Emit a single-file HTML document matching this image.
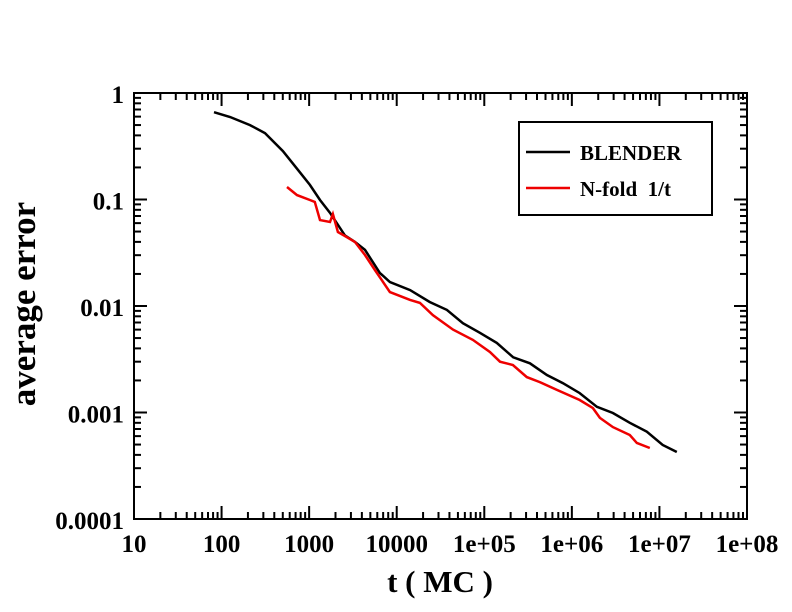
<!DOCTYPE html>
<html><head><meta charset="utf-8"><style>
body{margin:0;background:#fff}
svg{display:block;font-family:"Liberation Serif",serif;font-weight:bold}
</style></head><body>
<svg id="chart" width="792" height="612" viewBox="0 0 792 612" xmlns="http://www.w3.org/2000/svg">
<rect x="134" y="93" width="613" height="426" fill="none" stroke="#000" stroke-width="2"/>
<g id="ticks"></g>
<g id="labels"></g>
<g id="series"></g>
<text x="440" y="592" font-size="31" text-anchor="middle">t ( MC )</text>
<text transform="translate(35,304) rotate(-90)" font-size="35" text-anchor="middle">average error</text>
<g>
<rect x="519" y="122" width="193" height="93" fill="#fff" stroke="#000" stroke-width="2"/>
<line x1="526" y1="152" x2="570" y2="152" stroke="#000" stroke-width="2.5"/>
<text x="580" y="160" font-size="21">BLENDER</text>
<line x1="526" y1="188" x2="570" y2="188" stroke="#e00" stroke-width="2.5"/>
<text x="580" y="196" font-size="21" xml:space="preserve">N-fold  1/t</text>
</g>
</svg>
<script>
const xTickLabels=["10","100","1000","10000","1e+05","1e+06","1e+07","1e+08"];
const yTickLabels=["0.0001","0.001","0.01","0.1","1"];
const blenderT=[82,125,211,313,502,745,1020,1330,1730,2560,3330,4340,6430,8360,14200,23800,37400,57000,89100,139000,214000,332000,519000,789000,1.23e6,1.93e6,2.94e6,4.59e6,7.18e6,1.09e7,1.58e7];
const blenderErr=[0.66,0.595,0.50,0.42,0.285,0.19,0.137,0.099,0.075,0.046,0.040,0.0336,0.0204,0.0168,0.0141,0.0109,0.0092,0.0069,0.0056,0.0045,0.0033,0.0029,0.00225,0.00189,0.00152,0.00113,0.00099,0.00080,0.00066,0.000495,0.000426];
const nfoldT=[558,726,1020,1160,1330,1730,1870,2130,2560,3330,4340,5640,8360,14200,18400,25900,43900,74100,116000,151000,212000,306000,431000,675000,1.23e6,1.74e6,2.09e6,2.94e6,4.59e6,5.52e6,7.77e6];
const nfoldErr=[0.131,0.110,0.099,0.095,0.064,0.0615,0.073,0.0495,0.0454,0.040,0.0301,0.0218,0.0135,0.0114,0.0107,0.0082,0.0060,0.0048,0.0037,0.0030,0.00279,0.00215,0.00193,0.00163,0.00131,0.00110,0.00089,0.00073,0.000615,0.000518,0.000464];
const L=134,R=747,T=93,B=519;
const xs=t=>L+(Math.log10(t)-1)/7*(R-L);
const ys=e=>B-(Math.log10(e)+4)/4*(B-T);
const NS="http://www.w3.org/2000/svg";
const ticks=document.getElementById('ticks'),labels=document.getElementById('labels'),series=document.getElementById('series');
function ln(g,x1,y1,x2,y2,name){const l=document.createElementNS(NS,'line');
l.setAttribute('x1',x1);l.setAttribute('y1',y1);l.setAttribute('x2',x2);l.setAttribute('y2',y2);
l.setAttribute('stroke','#000');l.setAttribute('stroke-width','2');


g.appendChild(l);}
function tx(x,y,s,anchor,name){const t=document.createElementNS(NS,'text');
t.setAttribute('x',x);t.setAttribute('y',y);t.setAttribute('font-size','25');t.setAttribute('text-anchor',anchor);t.textContent=s;


labels.appendChild(t);}
for(let d=1;d<=8;d++){for(let m=1;m<=9;m++){if(d==8&&m>1)break;const x=xs(m*Math.pow(10,d));const len=m==1?13:7;
ln(ticks,x,B,x,B-len,'x-tick');ln(ticks,x,T,x,T+len,'x-tick-top');}}
for(let d=-4;d<=0;d++){for(let m=1;m<=9;m++){if(d==0&&m>1)break;const y=ys(m*Math.pow(10,d));const len=m==1?13:7;
ln(ticks,L,y,L+len,y,'y-tick');ln(ticks,R,y,R-len,y,'y-tick-right');}}
xTickLabels.forEach((s,i)=>tx(L+i*(R-L)/7,552,s,'middle','x-tick-label'));
yTickLabels.forEach((s,i)=>tx(124,B-i*(B-T)/4+10,s,'end','y-tick-label'));
function path(ts,es,color,name){const p=document.createElementNS(NS,'path');
p.setAttribute('d',ts.map((t,i)=>(i?'L':'M')+xs(t).toFixed(1)+','+ys(es[i]).toFixed(1)).join(''));
p.setAttribute('fill','none');p.setAttribute('stroke',color);p.setAttribute('stroke-width','2.5');


series.appendChild(p);}
path(blenderT,blenderErr,'#000','blender-line');
path(nfoldT,nfoldErr,'#e00','nfold-line');
</script>
</body></html>
